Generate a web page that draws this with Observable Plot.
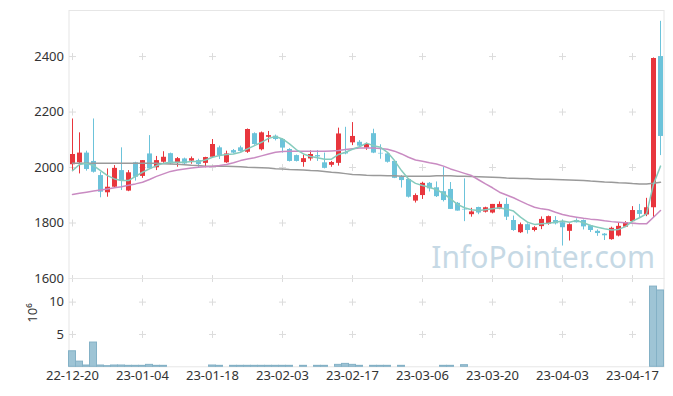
<!DOCTYPE html>
<html><head><meta charset="utf-8">
<script src="https://cdn.jsdelivr.net/npm/d3@7"></script>
<script src="https://cdn.jsdelivr.net/npm/@observablehq/plot@0.6"></script>
<style>body{margin:0;background:#fff;} #chart svg{display:block;}</style>
</head><body><div id="chart"></div><script>
const dates = ["22-12-20","22-12-21","22-12-22","22-12-23","22-12-26","22-12-27","22-12-28","22-12-29",
"23-01-02","23-01-03","23-01-04","23-01-05","23-01-06","23-01-09","23-01-10","23-01-11","23-01-12","23-01-13",
"23-01-16","23-01-17","23-01-18","23-01-19","23-01-20","23-01-25","23-01-26","23-01-27","23-01-30","23-01-31",
"23-02-01","23-02-02","23-02-03","23-02-06","23-02-07","23-02-08","23-02-09","23-02-10","23-02-13","23-02-14",
"23-02-15","23-02-16","23-02-17","23-02-20","23-02-21","23-02-22","23-02-23","23-02-24","23-02-27","23-02-28",
"23-03-02","23-03-03","23-03-06","23-03-07","23-03-08","23-03-09","23-03-10","23-03-13","23-03-14","23-03-15",
"23-03-16","23-03-17","23-03-20","23-03-21","23-03-22","23-03-23","23-03-24","23-03-27","23-03-28","23-03-29",
"23-03-30","23-03-31","23-04-03","23-04-04","23-04-05","23-04-06","23-04-07","23-04-10","23-04-11","23-04-12",
"23-04-13","23-04-14","23-04-17","23-04-18","23-04-19","23-04-20","23-04-21"];
const open  = [2010,2017,2052,2022,1971,1909,1929,1989,1915,2017,1968,2049,1999,2019,2050,2015,2031,2023,2025,2015,
2037,2071,2017,2061,2071,2055,2122,2064,2109,2113,2101,2065,2043,2018,2031,2043,2017,2008,2015,2054,
2089,2091,2070,2122,2051,2049,2022,1965,1957,1879,1899,1943,1927,1913,1921,1871,1849,1830,1856,1839,
1836,1850,1867,1809,1765,1794,1773,1787,1796,1809,1801,1770,1809,1809,1790,1770,1760,1740,1753,1785,
1805,1845,1829,1855,2400];
const high  = [2175,2125,2059,2175,1983,1995,2007,2071,1989,2019,2025,2115,2040,2057,2052,2036,2034,2038,2030,2037,
2101,2077,2059,2065,2077,2139,2125,2128,2130,2117,2104,2068,2045,2045,2060,2061,2052,2022,2142,2145,
2162,2097,2088,2138,2082,2052,2025,1971,1960,1905,1947,1946,1948,2001,1946,1874,1959,1853,1857,1857,
1867,1876,1889,1825,1800,1797,1787,1822,1825,1823,1811,1797,1815,1811,1792,1775,1762,1785,1800,1805,
1859,1867,1889,2395,2527];
const low   = [1985,1977,1987,1980,1891,1893,1925,1917,1913,1951,1961,1993,1989,2015,2010,2001,2010,2012,1999,1999,
2033,2029,2015,2049,2055,2051,2080,2060,2089,2096,2052,2020,2020,2001,2023,2022,1995,2001,2005,2046,
2079,2073,2062,2050,2030,2016,1960,1926,1890,1872,1885,1912,1892,1876,1849,1843,1805,1821,1830,1836,
1833,1848,1809,1770,1762,1760,1768,1776,1792,1793,1717,1735,1800,1775,1766,1752,1737,1738,1750,1784,
1803,1819,1823,1819,2043];
const close = [2047,2052,1993,1983,1911,1929,1997,1950,1981,1965,2025,1995,2025,2037,2013,2032,2013,2032,2011,2036,
2083,2043,2049,2052,2058,2137,2083,2125,2115,2101,2070,2022,2022,2032,2047,2038,1997,2018,2121,2049,
2112,2077,2083,2052,2049,2019,1961,1953,1893,1899,1943,1923,1895,1881,1849,1843,1847,1840,1836,1855,
1867,1867,1821,1773,1794,1773,1783,1813,1823,1797,1783,1794,1801,1786,1773,1762,1754,1781,1788,1801,
1845,1831,1855,2393,2112];
const volume = [2.4,0.8,0.2,3.75,0.2,0.1,0.2,0.2,0.15,0.15,0.15,0.3,0.15,0.15,0,0,0,0,0,0,
0.2,0.15,0,0.15,0.15,0.15,0.15,0.15,0.15,0.15,0.15,0.15,0,0.15,0,0.15,0.15,0,0.3,0.45,
0.3,0.15,0,0.15,0.15,0.15,0,0.15,0,0,0,0,0,0.15,0.15,0,0.25,0,0,0,
0,0,0,0,0,0,0,0,0,0,0,0,0,0,0,0,0,0,0,0,
0,0,0,12.4,11.8];
const ma5 = [1989,2011,2015,2007,1989,1971,1959,1953,1953,1968,1983,1995,2007,2015,2019,2019,2019,2022,2022,2027,
2037,2043,2047,2049,2055,2067,2079,2091,2105,2112,2103,2085,2064,2049,2040,2035,2030,2030,2047,2055,
2066,2075,2088,2079,2073,2055,2025,1989,1959,1943,1935,1929,1920,1907,1887,1867,1855,1848,1845,1848,
1851,1855,1850,1843,1821,1803,1795,1797,1799,1803,1807,1803,1809,1801,1791,1785,1779,1775,1777,1787,
1807,1819,1833,1940,2005];
const ma20 = [1903,1907,1911,1915,1919,1923,1927,1931,1936,1941,1947,1957,1968,1977,1986,1991,1995,1998,2001,2003,
2004,2007,2011,2017,2025,2031,2035,2042,2049,2055,2058,2059,2059,2059,2059,2059,2059,2060,2061,2065,
2068,2070,2070,2070,2069,2066,2059,2049,2037,2027,2023,2017,2013,2005,1995,1987,1979,1971,1956,1941,
1927,1911,1901,1891,1879,1867,1857,1851,1848,1839,1831,1825,1821,1817,1814,1812,1808,1805,1803,1801,
1799,1797,1797,1821,1845];
const ma60 = [2015,2015,2015,2015,2015,2015,2015,2015,2015,2015,2015,2015,2015,2014,2013,2012,2010,2008,2007,2005,
2005,2005,2005,2004,2003,2001,2000,1999,1998,1996,1995,1993,1992,1991,1989,1988,1986,1983,1981,1978,
1975,1974,1972,1971,1971,1970,1970,1969,1969,1969,1969,1969,1970,1970,1970,1969,1969,1968,1967,1966,
1965,1964,1962,1961,1960,1960,1959,1958,1958,1957,1956,1955,1954,1953,1951,1950,1948,1947,1945,1944,
1942,1941,1941,1943,1947];
const xTickIdx = [0,10,20,30,40,50,60,70,80];
const yTicks = [1600,1800,2000,2200,2400];
const volTicks = [5,10];

const N = dates.length;
const candles = dates.map((d,i)=>({i, date:d, open:open[i], high:high[i], low:low[i], close:close[i]}));
const candleColor = d => d.close >= d.open ? "#e8363d" : "#6cc3da";
const vols = volume.map((v,i)=>({i, v})).filter(d => d.v > 0);
const crossesMain = xTickIdx.flatMap(x => yTicks.map(y => ({x, y})));
const crossesVol = xTickIdx.flatMap(x => volTicks.map(y => ({x, y})));
const font = {fontFamily:"Noto Sans", fontSize:"13px", color:"#333", background:"#fff", overflow:"visible"};
// thin "+" grid marker drawn as a path symbol
const plusSymbol = {draw(ctx) { const r = 3.5; ctx.moveTo(-r, 0); ctx.lineTo(r, 0); ctx.moveTo(0, -r); ctx.lineTo(0, r); }};

const main = Plot.plot({
  width:673, height:278, marginLeft:68.5, marginRight:9.5, marginTop:10, marginBottom:0,
  style: font,
  x: {type:"linear", domain:[-0.5, N-0.5], axis:null},
  y: {domain:[1600, 2566], ticks: yTicks, tickFormat: d => String(d), tickSize:0, tickPadding:5, label:null},
  marks: [
    Plot.frame({stroke:"#e6e6e6"}),
    Plot.dot(crossesMain, {x:"x", y:"y", symbol: plusSymbol, r: 3, stroke:"#dcdcdc", fill:"none", strokeWidth:1}),
    Plot.text(["InfoPointer.com"], {x:N-0.5, y:1600, text:d=>d, textAnchor:"end", lineAnchor:"bottom",
      dx:-9, dy:-11, fontSize:30, fill:"#c6d9e5"}),
    Plot.ruleX(candles, {x:"i", y1:"low", y2:"high", stroke:candleColor, strokeWidth:1}),
    Plot.ruleX(candles, {x:"i", y1:"open", y2:"close", stroke:candleColor, strokeWidth:5}),
    Plot.line(ma60, {x:(d,i)=>i, y:d=>d, stroke:"#9a9a9a", strokeWidth:1.5}),
    Plot.line(ma20, {x:(d,i)=>i, y:d=>d, stroke:"#c98bc2", strokeWidth:1.5}),
    Plot.line(ma5, {x:(d,i)=>i, y:d=>d, stroke:"#86cbbd", strokeWidth:1.5})
  ]
});

const vol = Plot.plot({
  width:673, height:118, marginLeft:68.5, marginRight:9.5, marginTop:0, marginBottom:29.7,
  style: font,
  x: {type:"linear", domain:[-0.5, N-0.5], ticks: xTickIdx, tickFormat: i => dates[i], tickSize:0, tickPadding:4, label:null},
  y: {domain:[0, 13.65], ticks: volTicks, tickSize:0, tickPadding:5, label:null},
  marks: [
    Plot.frame({stroke:"#e6e6e6"}),
    Plot.dot(crossesVol, {x:"x", y:"y", symbol: plusSymbol, r: 3, stroke:"#dcdcdc", fill:"none", strokeWidth:1}),
    Plot.rectY(vols, {x1:d=>d.i-0.5, x2:d=>d.i+0.5, y:"v", fill:"#9ec4d5", stroke:"#84b1c6", strokeWidth:1}),
    Plot.text(["10⁶"], {frameAnchor:"left", dx:-36.5, text:d=>d, rotate:-90, fontSize:13, fill:"#333"})
  ]
});

const c = document.getElementById("chart");
c.appendChild(main);
c.appendChild(vol);
</script></body></html>
